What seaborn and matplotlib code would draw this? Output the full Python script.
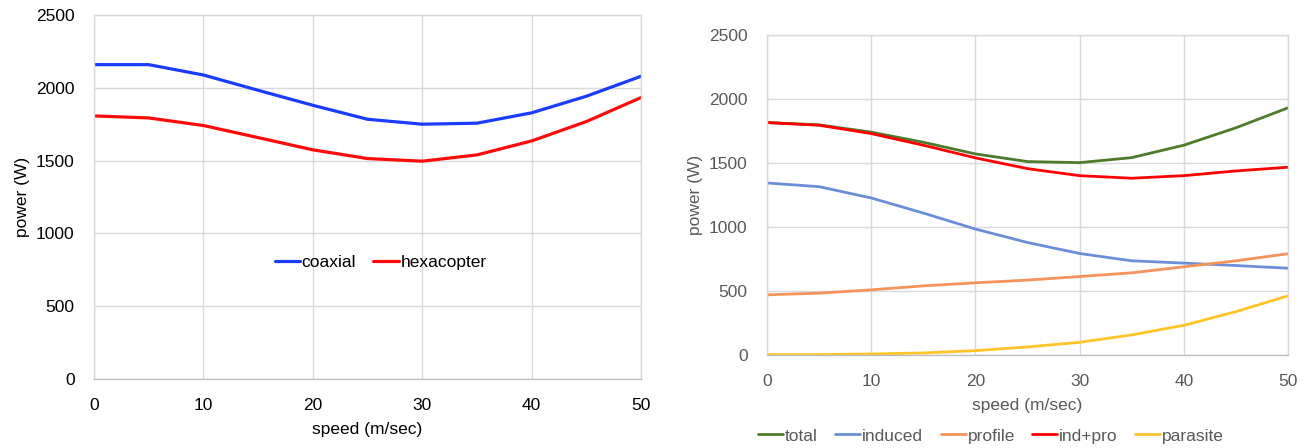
import numpy as np
import pandas as pd
import matplotlib
matplotlib.use("Agg")
import matplotlib.pyplot as plt
import seaborn as sns

speed = [0, 5, 10, 15, 20, 25, 30, 35, 40, 45, 50]

coaxial = [2159, 2159, 2088, 1983, 1880, 1784, 1750, 1757, 1828, 1942, 2079]
hexacopter = [1807, 1793, 1741, 1658, 1574, 1514, 1496, 1539, 1635, 1768, 1933]

total = [1816, 1798, 1741, 1662, 1571, 1511, 1503, 1542, 1639, 1775, 1931]
induced = [1344, 1315, 1227, 1109, 984, 879, 793, 736, 718, 699, 678]
profile = [470, 483, 509, 540, 564, 585, 613, 642, 689, 736, 791]
ind_pro = [1816, 1795, 1730, 1639, 1540, 1456, 1401, 1381, 1401, 1438, 1467]
parasite = [3, 3, 8, 16, 34, 63, 99, 157, 232, 339, 462]

left_names = ["coaxial", "hexacopter"]
right_names = ["total", "induced", "profile", "ind+pro", "parasite"]
y_ticks = [0, 500, 1000, 1500, 2000, 2500]
x_ticks = [0, 10, 20, 30, 40, 50]

left_colors = {"coaxial": "#1A3CFF", "hexacopter": "#FF0A0A"}
right_colors = {"total": "#4E7A2C", "induced": "#6A8FD8", "profile": "#F4935A",
                "ind+pro": "#FF0000", "parasite": "#FFC428"}

sns.set_style("whitegrid")
plt.rcParams["font.family"] = ["Liberation Sans", "DejaVu Sans"]

df_left = pd.DataFrame({
    "speed": speed * 2,
    "power": coaxial + hexacopter,
    "series": ["coaxial"] * len(speed) + ["hexacopter"] * len(speed),
})
df_right = pd.DataFrame({
    "speed": speed * 5,
    "power": total + induced + profile + ind_pro + parasite,
    "series": sum([[n] * len(speed) for n in right_names], []),
})

W, H = 1307, 448
fig = plt.figure(figsize=(W / 100, H / 100), dpi=100)
axL = fig.add_axes([94 / W, 1 - 379 / H, (641 - 94) / W, (379 - 15) / H])
axR = fig.add_axes([767 / W, 1 - 355 / H, (1288 - 767) / W, (355 - 35) / H])

fs = 12.5
sns.lineplot(data=df_left, x="speed", y="power", hue="series", hue_order=left_names,
             palette=left_colors, linewidth=2.3, ax=axL)
sns.lineplot(data=df_right, x="speed", y="power", hue="series", hue_order=right_names,
             palette=right_colors, linewidth=2.0, ax=axR)

for ax, tc in [(axL, "#000000"), (axR, "#595959")]:
    ax.set_xlim(0, 50)
    ax.set_ylim(0, 2500)
    ax.set_xticks(x_ticks)
    ax.set_yticks(y_ticks)
    ax.grid(True, color="#D9D9D9", linewidth=1.0)
    ax.tick_params(axis="both", length=0, labelsize=fs, colors=tc)
    ax.tick_params(axis="x", pad=14)
    ax.tick_params(axis="y", pad=14)
    for s in ax.spines.values():
        s.set_color("#D9D9D9")
        s.set_linewidth(1.0)
    ax.spines["bottom"].set_color("#BFBFBF")
    ax.set_xlabel("speed (m/sec)", fontsize=fs, color=tc, labelpad=6)
    ax.set_ylabel("power (W)", fontsize=fs, color=tc, labelpad=4)

h, l = axL.get_legend_handles_labels()
axL.legend(h, l, loc="center", bbox_to_anchor=(0.524, 0.32), ncol=2, frameon=False,
           fontsize=fs, handlelength=1.45, handletextpad=0.1, columnspacing=1.0,
           labelcolor="#000000")
h, l = axR.get_legend_handles_labels()
axR.legend(h, l, loc="center", bbox_to_anchor=(0.43, -0.253), ncol=5, frameon=False,
           fontsize=fs, handlelength=1.45, handletextpad=0.1, columnspacing=1.0,
           labelcolor="#595959")

fig.savefig("out.png", dpi=100)
